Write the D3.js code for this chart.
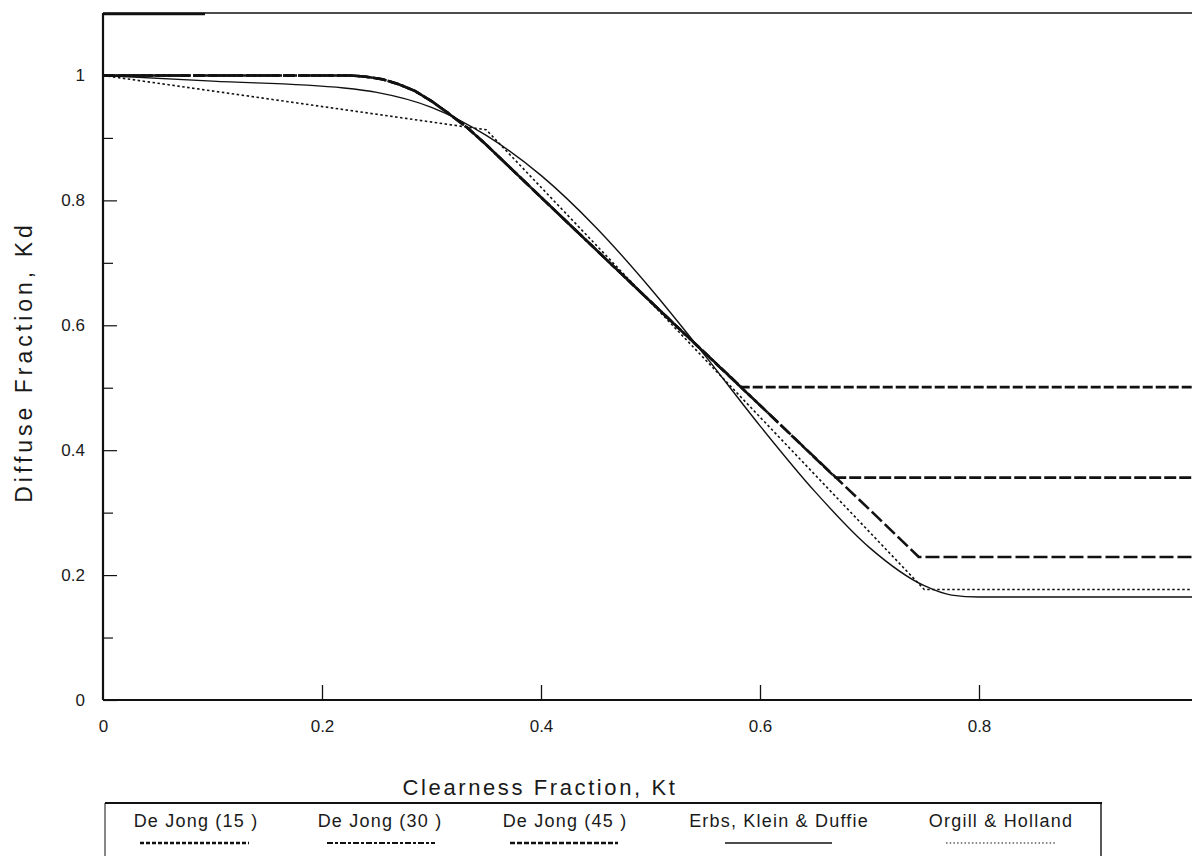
<!DOCTYPE html>
<html>
<head>
<meta charset="utf-8">
<script src="https://cdn.jsdelivr.net/npm/d3@7"></script>
<style>
body { margin: 0; background: #fff; }
text { font-family: "Liberation Sans", Arial, sans-serif; fill: #1a1a1a; }
</style>
</head>
<body>
<script>
// values (Kt, Kd)
var deJong15 = [[0, 1.0], [0.226, 1.0], [0.24, 0.998], [0.255, 0.994], [0.27, 0.986], [0.285, 0.975],
  [0.30, 0.959], [0.315, 0.940], [0.333, 0.916], [0.35, 0.889], [0.4, 0.805], [0.5, 0.638], [0.583, 0.501], [1.0, 0.501]];
var deJong30 = [[0, 1.0], [0.226, 1.0], [0.24, 0.998], [0.255, 0.994], [0.27, 0.986], [0.285, 0.975],
  [0.30, 0.959], [0.315, 0.940], [0.333, 0.916], [0.35, 0.889], [0.4, 0.805], [0.5, 0.638], [0.6, 0.472], [0.669, 0.356], [1.0, 0.356]];
var deJong45 = [[0, 1.0], [0.226, 1.0], [0.24, 0.998], [0.255, 0.994], [0.27, 0.986], [0.285, 0.975],
  [0.30, 0.959], [0.315, 0.940], [0.333, 0.916], [0.35, 0.889], [0.4, 0.805], [0.5, 0.638], [0.6, 0.472], [0.7, 0.305], [0.745, 0.229], [1.0, 0.229]];
var erbs = [[0, 1.0], [0.1, 0.991], [0.22, 0.980], [0.25, 0.973], [0.3, 0.949], [0.35, 0.904], [0.4, 0.840],
  [0.45, 0.757], [0.5, 0.659], [0.55, 0.551], [0.6, 0.439], [0.65, 0.334], [0.7, 0.244], [0.75, 0.183],
  [0.775, 0.168], [0.8, 0.165], [0.9, 0.165], [1.0, 0.165]];
var orgill = [[0, 1.0], [0.35, 0.913], [0.75, 0.177], [1.0, 0.177]];

var xTicks = [0, 0.2, 0.4, 0.6, 0.8];
var yTicks = [0, 0.2, 0.4, 0.6, 0.8, 1];
var yMinor = [0.1, 0.3, 0.5, 0.7, 0.9];

var legendNames = ["De Jong (15 )", "De Jong (30 )", "De Jong (45 )", "Erbs, Klein & Duffie", "Orgill & Holland"];

var W = 1192, H = 856;
var svg = d3.select("body").append("svg")
  .attr("width", W)
  .attr("height", H);

var x = d3.scaleLinear().domain([0, 1]).range([103, 1198]);
var y = d3.scaleLinear().domain([0, 1.1]).range([700, 13]);

// frame top line (the scan has a heavier stub at the left)
svg.append("line").attr("x1", x(0)).attr("x2", W).attr("y1", 13).attr("y2", 13)
  .attr("stroke", "#111").attr("stroke-width", 1.6);
svg.append("line").attr("x1", x(0)).attr("x2", 205).attr("y1", 14).attr("y2", 14)
  .attr("stroke", "#111").attr("stroke-width", 2.4);

// x axis, ticks point up into the plot
var xAxis = d3.axisBottom(x).tickValues(xTicks).tickSize(-15).tickPadding(20)
  .tickFormat(function(d) { return d === 0 ? "0" : d3.format(".1f")(d); });
var gx = svg.append("g").attr("transform", "translate(0," + y(0) + ")").call(xAxis);
gx.select(".domain").attr("stroke", "#111").attr("stroke-width", 2).attr("d", "M" + x(0) + ",0H" + W);
gx.selectAll(".tick line").attr("stroke", "#111").attr("stroke-width", 1.3)
  .filter(function(d) { return d === 0; }).remove();
gx.selectAll(".tick text").attr("font-size", 17).attr("fill", "#1a1a1a")
  .style("font-family", "'Liberation Sans', Arial, sans-serif");

// y axis, ticks point right into the plot
var yAxis = d3.axisLeft(y).tickValues(yTicks).tickSize(-14).tickPadding(18)
  .tickFormat(function(d) { return d === 0 || d === 1 ? String(d) : d3.format(".1f")(d); });
var gy = svg.append("g").attr("transform", "translate(" + x(0) + ",0)").call(yAxis);
gy.select(".domain").attr("stroke", "#111").attr("stroke-width", 2.2).attr("d", "M0," + y(0) + "V13");
gy.selectAll(".tick line").attr("stroke", "#111").attr("stroke-width", 1.2);
gy.selectAll(".tick text").attr("font-size", 17).attr("fill", "#1a1a1a")
  .style("font-family", "'Liberation Sans', Arial, sans-serif");

var gyMinor = svg.append("g").attr("transform", "translate(" + x(0) + ",0)")
  .call(d3.axisLeft(y).tickValues(yMinor).tickSize(-10).tickFormat(""));
gyMinor.select(".domain").remove();
gyMinor.selectAll(".tick line").attr("stroke", "#111").attr("stroke-width", 1.2);

// axis titles
svg.append("text")
  .attr("x", 540).attr("y", 795)
  .attr("text-anchor", "middle")
  .attr("font-size", 22)
  .style("letter-spacing", "2.6px")
  .text("Clearness Fraction, Kt");

svg.append("text")
  .attr("transform", "translate(32,362) rotate(-90)")
  .attr("text-anchor", "middle")
  .attr("font-size", 23)
  .style("letter-spacing", "4px")
  .text("Diffuse Fraction, Kd");

// curves
var line = d3.line()
  .x(function(d) { return x(d[0]); })
  .y(function(d) { return y(d[1]); });
var smooth = d3.line()
  .x(function(d) { return x(d[0]); })
  .y(function(d) { return y(d[1]); })
  .curve(d3.curveMonotoneX);

var styles = [
  { data: deJong15, width: 2.6, dash: "10,3", gen: line },
  { data: deJong30, width: 2.6, dash: "12,3", gen: line },
  { data: deJong45, width: 2.6, dash: "14,4", gen: line },
  { data: erbs, width: 1.4, dash: null, gen: smooth },
  { data: orgill, width: 1.6, dash: "2.5,2.5", gen: line }
];

var plot = svg.append("g");
styles.forEach(function(s) {
  plot.append("path")
    .datum(s.data)
    .attr("fill", "none")
    .attr("stroke", "#111")
    .attr("stroke-width", s.width)
    .attr("stroke-linejoin", "round")
    .attr("stroke-dasharray", s.dash)
    .attr("d", s.gen);
});

// legend box
var leg = svg.append("g");
leg.append("line").attr("x1", 105).attr("x2", 1102).attr("y1", 803).attr("y2", 803)
  .attr("stroke", "#111").attr("stroke-width", 1.8);
leg.append("line").attr("x1", 105).attr("x2", 105).attr("y1", 803).attr("y2", H)
  .attr("stroke", "#111").attr("stroke-width", 1);
leg.append("line").attr("x1", 1101).attr("x2", 1101).attr("y1", 803).attr("y2", H)
  .attr("stroke", "#111").attr("stroke-width", 1.4);

var legSample = [
  { x1: 140, x2: 249, width: 2.4, dash: "4,2" },
  { x1: 327, x2: 435, width: 2.2, dash: "6,2,3,2" },
  { x1: 510, x2: 618, width: 2.4, dash: "5,2" },
  { x1: 725, x2: 832, width: 1.5, dash: null },
  { x1: 946, x2: 1055, width: 1.2, dash: "1.5,2.2" }
];
var legTextX = [196, 380, 565, 779, 1001];

legendNames.forEach(function(name, i) {
  leg.append("text")
    .attr("x", legTextX[i]).attr("y", 827)
    .attr("text-anchor", "middle")
    .attr("font-size", 18)
    .style("letter-spacing", "1.2px")
    .text(name);
  leg.append("line")
    .attr("x1", legSample[i].x1).attr("x2", legSample[i].x2)
    .attr("y1", 843).attr("y2", 843)
    .attr("stroke", "#111")
    .attr("stroke-width", legSample[i].width)
    .attr("stroke-dasharray", legSample[i].dash);
});
</script>
</body>
</html>
